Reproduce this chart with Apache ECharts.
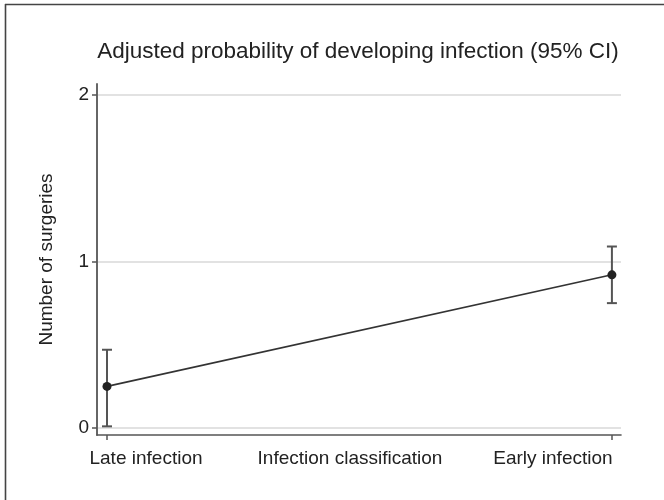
<!DOCTYPE html>
<html>
<head>
<meta charset="utf-8">
<script src="https://cdn.jsdelivr.net/npm/echarts@6/dist/echarts.min.js"></script>
<style>html,body{margin:0;padding:0;background:#fff;}#c{width:664px;height:500px;}</style>
</head>
<body>
<div id="c"></div>
<script>
const categories = ['Late infection', 'Early infection'];
const estimates = [0.25, 0.92];
const lowerCI = [0.01, 0.75];
const upperCI = [0.47, 1.09];
const yTicks = [0, 1, 2];
const titleText = 'Adjusted probability of developing infection (95% CI)';
const xName = 'Infection classification';
const yName = 'Number of surgeries';

const FONT = 'Liberation Sans, Arial, Helvetica, sans-serif';
const chart = echarts.init(document.getElementById('c'), null, {renderer: 'canvas'});
const pts = categories.map((c, i) => [i, estimates[i]]);
const bars = categories.map((c, i) => [i, lowerCI[i], upperCI[i]]);
const labelStyle = {fontFamily: FONT, fontSize: 19, color: '#222'};

chart.setOption({
  animation: false,
  backgroundColor: '#fff',
  title: {
    text: titleText, left: 353, top: 35, textAlign: 'center',
    textStyle: {fontFamily: FONT, fontSize: 22.5, fontWeight: 'normal', color: '#222'}
  },
  graphic: [
    {type: 'line', shape: {x1: 5, y1: 4.5, x2: 664, y2: 4.5}, style: {stroke: '#444', lineWidth: 1.6}},
    {type: 'line', shape: {x1: 5.5, y1: 4, x2: 5.5, y2: 500}, style: {stroke: '#444', lineWidth: 1.6}}
  ],
  grid: {left: 97, right: 43, top: 84, bottom: 65, outerBoundsMode: 'none', containLabel: false},
  xAxis: {
    type: 'value', min: -0.0198, max: 1.018,
    name: xName, nameLocation: 'middle', nameGap: 14, nameMoveOverlap: false,
    nameTextStyle: Object.assign({verticalAlign: 'top', padding: [0, 18, 0, 0]}, labelStyle),
    axisLine: {show: true, onZero: false, lineStyle: {color: '#555', width: 1.6}},
    axisTick: {show: true, length: 5, customValues: [0, 1], lineStyle: {color: '#555', width: 1.5}},
    axisLabel: Object.assign({customValues: [0, 1], margin: 14,
      formatter: v => Math.round(v) === 0 ? '{a|' + categories[0] + '}' : '{b|' + categories[1] + '}',
      rich: {
        a: Object.assign({padding: [0, 0, 0, 78]}, labelStyle),
        b: Object.assign({padding: [0, 118, 0, 0]}, labelStyle)
      }}, labelStyle),
    splitLine: {show: false}
  },
  yAxis: {
    type: 'value', min: -0.042, max: 2.066,
    name: yName, nameLocation: 'middle', nameGap: 41, nameRotate: 90, nameMoveOverlap: false,
    nameTextStyle: labelStyle,
    axisLine: {show: true, onZero: false, lineStyle: {color: '#666', width: 2}},
    axisTick: {show: true, length: 5, customValues: yTicks, lineStyle: {color: '#555', width: 1.5}},
    axisLabel: Object.assign({customValues: yTicks, margin: 8}, labelStyle),
    splitLine: {show: true, lineStyle: {color: '#d8d8d8', width: 1.5}}
  },
  series: [
    {
      type: 'custom', z: 2,
      renderItem: (params, api) => {
        const x = api.value(0);
        const lo = api.coord([x, api.value(1)]);
        const hi = api.coord([x, api.value(2)]);
        const w = 5;
        const st = {stroke: '#555', lineWidth: 2};
        return {type: 'group', children: [
          {type: 'line', shape: {x1: lo[0], y1: lo[1], x2: hi[0], y2: hi[1]}, style: st},
          {type: 'line', shape: {x1: lo[0] - w, y1: lo[1], x2: lo[0] + w, y2: lo[1]}, style: st},
          {type: 'line', shape: {x1: hi[0] - w, y1: hi[1], x2: hi[0] + w, y2: hi[1]}, style: st}
        ]};
      },
      encode: {x: 0, y: [1, 2]},
      data: bars
    },
    {
      type: 'line', z: 3, data: pts,
      symbol: 'circle', symbolSize: 9,
      lineStyle: {color: '#333', width: 1.6},
      itemStyle: {color: '#222', borderWidth: 0}
    }
  ]
});
</script>
</body>
</html>
